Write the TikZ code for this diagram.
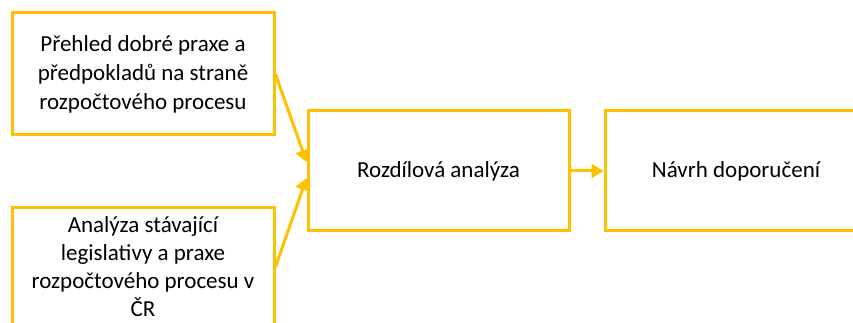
\documentclass[tikz,border=0pt]{standalone}
\usepackage{fontspec}
\setmainfont{Carlito}
\usetikzlibrary{arrows.meta,calc}
\definecolor{gold}{HTML}{FFC000}
\begin{document}
\begin{tikzpicture}[x=1pt,y=1pt,
  box/.style={draw=gold,line width=3pt,rectangle,inner sep=0pt,align=center,
    font=\fontsize{23}{29}\selectfont,text=black},
  conn/.style={draw=gold,line width=3pt,-{Triangle[length=12pt,width=14pt]}}]
\useasboundingbox (0,0) rectangle (853,323);
\clip (0,0) rectangle (853,323);
\fill[white] (0,0) rectangle (853,323);
\node[box,minimum width=262pt,minimum height=122pt] (tl) at (143,249)
  {Přehled dobré praxe a\\předpokladů na straně\\rozpočtového procesu};
\node[box,minimum width=262pt,minimum height=118pt,font=\fontsize{23}{28}\selectfont] (bl) at (143,56)
  {Analýza stávající\\legislativy a praxe\\rozpočtového procesu v\\ČR};
\node[box,minimum width=261pt,minimum height=120pt] (mid) at (438.5,152)
  {Rozdílová analýza};
\node[box,minimum width=262pt,minimum height=120pt] (rt) at (736,152)
  {Návrh doporučení};
\draw[conn] (tl.east) -- ($(mid.west)+(0,9)$);
\draw[conn] (bl.east) -- ($(mid.west)+(0,-7)$);
\draw[conn] (mid.east) -- (rt.west);
\end{tikzpicture}
\end{document}
